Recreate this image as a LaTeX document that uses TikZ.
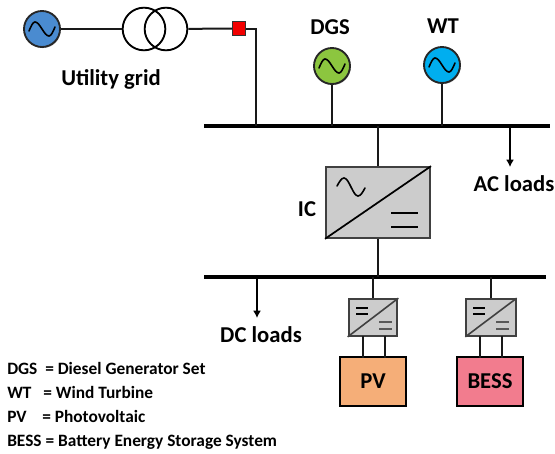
\documentclass[tikz,border=0pt]{standalone}
\usepackage{fontspec}
\setmainfont{Carlito}
\usetikzlibrary{shadows}
\usetikzlibrary{arrows.meta}
\definecolor{gridblue}{HTML}{4A8BD0}
\definecolor{dgsgreen}{HTML}{8CC63F}
\definecolor{wtblue}{HTML}{00AEEF}
\definecolor{pvorange}{HTML}{F5AE78}
\definecolor{bessred}{HTML}{F27C8E}
\tikzset{
  softshadow/.style={drop shadow={shadow xshift=0.6pt, shadow yshift=-0.8pt, opacity=0.3, fill=black}},
  source/.style={circle, draw=black!85, line width=1.4pt, minimum size=27pt, inner sep=0pt, softshadow},
  winding/.style={circle, draw=black, line width=1.4pt, minimum size=32pt, inner sep=0pt},
  busbar/.style={rectangle, fill=black, inner sep=0pt, minimum height=3pt},
  converter/.style={rectangle, draw=black!75, line width=1.5pt, fill=black!20, inner sep=0pt, softshadow},
  storagebox/.style={rectangle, draw=black, line width=1.5pt, inner sep=0pt, minimum width=49pt, minimum height=36.5pt, softshadow},
  wire/.style={line width=1.5pt, black!90},
  loadarrow/.style={line width=1.5pt, -{Latex[length=5.5pt,width=6pt]}},
  biglabel/.style={font=\fontsize{17}{20}\selectfont\bfseries, inner sep=0pt},
  wave/.style={line width=1.2pt, line cap=round}
}
\begin{document}
\begin{tikzpicture}[x=0.75pt, y=-0.75pt]
  \useasboundingbox (0,0) rectangle (555,453);

  \node[busbar, minimum width=259.5pt] (ACbus) at (377,126) {};
  \node[busbar, minimum width=256.5pt] (DCbus) at (375,277) {};

  \node[source, fill=gridblue] (Grid) at (42,29) {};
  \node[winding] (T1) at (144,29) {};
  \node[winding] (T2) at (166,29) {};
  \node[rectangle, draw=black!80, fill=red!95!black, line width=1pt, minimum width=9.5pt, minimum height=10.5pt, inner sep=0pt] (Breaker) at (239,28.5) {};
  \node[source, fill=dgsgreen] (DGS) at (332,66) {};
  \node[source, fill=wtblue] (WT) at (442,65) {};

  \node[converter, minimum width=78pt, minimum height=53pt] (IC) at (378,202.5) {};
  \node[converter, minimum width=36.5pt, minimum height=27.5pt] (ConvPV) at (373,317.5) {};
  \node[converter, minimum width=37pt, minimum height=27.5pt] (ConvBESS) at (491,317.5) {};

  \node[storagebox, fill=pvorange] (PV) at (373,381.5) {\fontsize{17}{20}\selectfont\bfseries PV};
  \node[storagebox, fill=bessred] (BESS) at (490,381.5) {\fontsize{17}{20}\selectfont\bfseries BESS};

  \coordinate (ACend) at (510,167);
  \coordinate (DCend) at (257,318);
  \coordinate (Corner) at (256,29);

  \draw[wire] (Grid) -- (T1);
  \draw[wire] (T2) -- (Breaker);
  \draw[wire] (Breaker.east |- Corner) -- (Corner) -- (Corner |- ACbus);
  \draw[wire] (DGS) -- (DGS |- ACbus);
  \draw[wire] (WT) -- (WT |- ACbus);
  \draw[wire] (IC.north) -- (IC.north |- ACbus);
  \draw[wire] (IC.south) -- (IC.south |- DCbus);
  \draw[wire] (ConvPV.north) -- (ConvPV.north |- DCbus);
  \draw[wire] (ConvBESS.north) -- (ConvBESS.north |- DCbus);
  \draw[loadarrow] (ACend |- ACbus) -- (ACend);
  \draw[loadarrow] (DCend |- DCbus) -- (DCend);

  \foreach \x in {363,385} \draw[wire] (\x,336) -- (\x,358);
  \foreach \x in {480,502} \draw[wire] (\x,336) -- (\x,358);

  \foreach \cx/\cy in {42/29,332/66,442/65}
    \draw[wave] (\cx-13,\cy+2) sin (\cx-7,\cy-7) cos (\cx,\cy) sin (\cx+7,\cy+7) cos (\cx+13,\cy-2);
  \draw[wave] (337,186) sin (344,178) cos (351,187) sin (358,196) cos (365,188);

  \draw[line width=1.3pt] (IC.south west) -- (IC.north east);
  \draw[line width=1.3pt] (391,213) -- (418,213);
  \draw[line width=1.3pt] (391,227) -- (418,227);
  \draw[line width=1.2pt, black!75] (ConvPV.south west) -- (ConvPV.north east);
  \draw[line width=1.2pt, black!75] (ConvBESS.south west) -- (ConvBESS.north east);
  \foreach \x in {0,117} {
    \draw[line width=1.3pt] (356+\x,308) -- (368+\x,308);
    \draw[line width=1.3pt] (356+\x,314) -- (368+\x,314);
    \draw[line width=1.2pt, black!65] (379+\x,322) -- (392+\x,322);
    \draw[line width=1.2pt, black!65] (379+\x,329) -- (392+\x,329);
  }

  \node[biglabel] (GridText) at (111,79) {Utility grid};
  \node[biglabel] (DGSText) at (330,27) {DGS};
  \node[biglabel] (WTText) at (443,26) {WT};
  \node[biglabel] (ICText) at (307,209) {IC};
  \node[biglabel] (ACText) at (514,184) {AC loads};
  \node[biglabel] (DCText) at (261,335) {DC loads};

  \node[anchor=north west, align=left, inner sep=0pt, font=\fontsize{13}{18}\selectfont\bfseries] (Legend) at (7,362)
    {DGS\ \ = Diesel Generator Set\\
     WT\ \ \ = Wind Turbine\\
     PV\ \ \ \ = Photovoltaic\\
     BESS = Battery Energy Storage System};
\end{tikzpicture}
\end{document}
